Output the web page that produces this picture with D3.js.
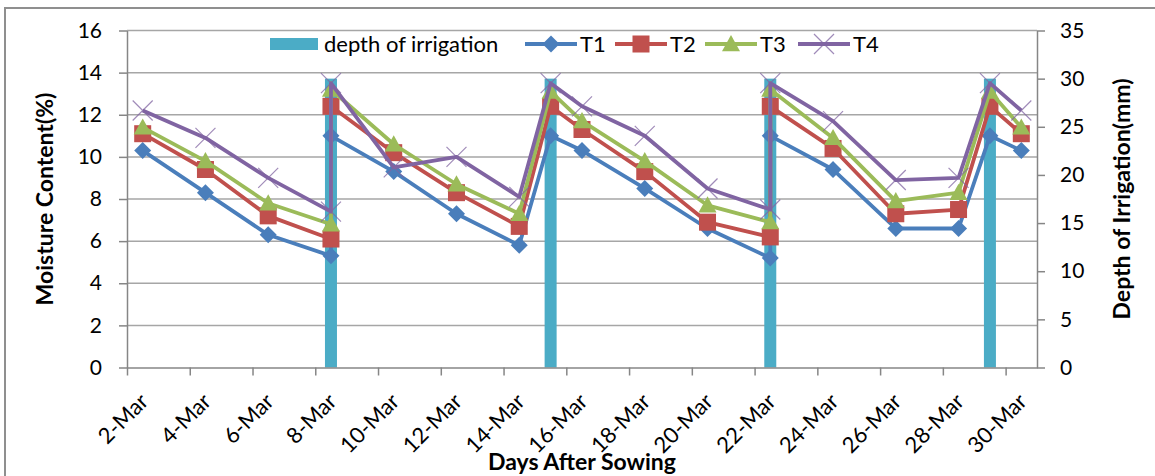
<!DOCTYPE html>
<html>
<head>
<meta charset="utf-8">
<script src="https://cdn.jsdelivr.net/npm/d3@7"></script>
<style>
    body { margin: 0; background: #fff; }
    text { font-family: Lato, Carlito, "Open Sans", sans-serif; fill: #000; }
</style>
</head>
<body>
<div id="chart"></div>
<script>

// Sampling dates (the irrigation days appear twice: before and after watering)
var dateLabels = ["2-Mar", "4-Mar", "6-Mar", "8-Mar", "8-Mar", "10-Mar", "12-Mar", "14-Mar", "15-Mar",
    "16-Mar", "18-Mar", "20-Mar", "22-Mar", "22-Mar", "24-Mar", "26-Mar", "28-Mar", "29-Mar", "30-Mar"];

var t1 = [10.3, 8.3, 6.3, 5.3, 11.0, 9.3, 7.3, 5.8, 11.0, 10.3, 8.5, 6.6, 5.2, 11.0, 9.4, 6.6, 6.6, 11.0, 10.3];
var t2 = [11.1, 9.4, 7.2, 6.1, 12.4, 10.2, 8.3, 6.7, 12.4, 11.3, 9.3, 6.9, 6.2, 12.4, 10.4, 7.3, 7.5, 12.4, 11.1];
var t3 = [11.4, 9.8, 7.8, 6.8, 13.2, 10.6, 8.7, 7.3, 13.1, 11.7, 9.8, 7.7, 6.9, 13.2, 10.9, 7.9, 8.3, 13.1, 11.4];
var t4 = [12.2, 10.9, 9.0, 7.4, 13.5, 9.5, 10.0, 8.1, 13.5, 12.4, 11.0, 8.5, 7.5, 13.5, 11.7, 8.9, 9.0, 13.5, 12.2];

// Irrigation events (right axis, mm)
var irrigationDates = ["8-Mar", "15-Mar", "22-Mar", "29-Mar"];
var irrigationDepth = [30, 30, 30, 30];

// Axis settings
var tickLabels = ["2-Mar", "4-Mar", "6-Mar", "8-Mar", "10-Mar", "12-Mar", "14-Mar", "16-Mar",
    "18-Mar", "20-Mar", "22-Mar", "24-Mar", "26-Mar", "28-Mar", "30-Mar"];
var axisStart = "2-Mar", axisEnd = "31-Mar";
var leftTicks = [0, 2, 4, 6, 8, 10, 12, 14, 16];
var rightTicks = [0, 5, 10, 15, 20, 25, 30, 35];

var parseDay = d3.utcParse("%d-%b");
var DAY = 24 * 3600 * 1000;

var series = [
    {name: "T1", values: t1, color: "#4A7EBB", marker: "diamond"},
    {name: "T2", values: t2, color: "#C0504D", marker: "square"},
    {name: "T3", values: t3, color: "#9BBB59", marker: "triangle"},
    {name: "T4", values: t4, color: "#8064A2", marker: "cross"}
];
var barColor = "#4BACC6";

var W = 1155, H = 476;
var plotLeft = 127, plotRight = 1037, plotTop = 30.5, plotBottom = 367.5;

var svg = d3.select("#chart").append("svg")
    .attr("width", W)
    .attr("height", H);

// outer chart border
svg.append("rect")
    .attr("x", 5).attr("y", 8)
    .attr("width", 1200).attr("height", 520)
    .attr("fill", "none")
    .attr("stroke", "#8f8f8f")
    .attr("stroke-width", 2);

// Scales
var x = d3.scaleUtc()
    .domain([parseDay(axisStart), parseDay(axisEnd)])
    .range([plotLeft, plotRight]);

var dayWidth = (plotRight - plotLeft) / ((parseDay(axisEnd) - parseDay(axisStart)) / DAY);

var xc = function (label) {
    // centre of the day slot
    return x(parseDay(label)) + dayWidth / 2;
};

var yL = d3.scaleLinear().domain([0, 16]).range([plotBottom, plotTop]);
var yR = d3.scaleLinear().domain([0, 35]).range([plotBottom, plotTop]);

// Gridlines
svg.append("g")
    .selectAll("line")
    .data(leftTicks.slice(1))
    .enter().append("line")
    .attr("x1", plotLeft).attr("x2", plotRight)
    .attr("y1", function (d) { return yL(d); })
    .attr("y2", function (d) { return yL(d); })
    .attr("stroke", "#a6a6a6")
    .attr("stroke-width", 1.5);

// Bars
var barW = 12;
svg.append("g")
    .selectAll("rect")
    .data(irrigationDates)
    .enter().append("rect")
    .attr("x", function (d) { return xc(d) - barW / 2; })
    .attr("width", barW)
    .attr("y", function (d, i) { return yR(irrigationDepth[i]); })
    .attr("height", function (d, i) { return yR(0) - yR(irrigationDepth[i]); })
    .attr("fill", barColor);

// Marker shapes
function drawMarker(sel, type, color, s) {
    if (type === "diamond") {
        sel.append("path")
            .attr("d", "M0," + (-s) + "L" + s + ",0L0," + s + "L" + (-s) + ",0Z")
            .attr("fill", color);
    } else if (type === "square") {
        sel.append("rect")
            .attr("x", -s).attr("y", -s)
            .attr("width", 2 * s).attr("height", 2 * s)
            .attr("fill", color);
    } else if (type === "triangle") {
        sel.append("path")
            .attr("d", "M0," + (-s) + "L" + s + "," + (s * 0.8) + "L" + (-s) + "," + (s * 0.8) + "Z")
            .attr("fill", color);
    } else {
        sel.append("path")
            .attr("d", "M" + (-s) + "," + (-s) + "L" + s + "," + s + "M" + s + "," + (-s) + "L" + (-s) + "," + s)
            .attr("stroke", color)
            .attr("stroke-opacity", 0.75)
            .attr("stroke-width", 1.2)
            .attr("fill", "none");
    }
}
var markerSize = {diamond: 8.5, square: 8.5, triangle: 9, cross: 10};

// Lines + markers
var line = d3.line()
    .x(function (d, i) { return xc(dateLabels[i]); })
    .y(function (d) { return yL(d); });

series.forEach(function (s) {
    var g = svg.append("g");
    g.append("path")
        .datum(s.values)
        .attr("d", line)
        .attr("fill", "none")
        .attr("stroke", s.color)
        .attr("stroke-width", 3.8)
        .attr("stroke-linejoin", "round");
    s.values.forEach(function (v, i) {
        var m = g.append("g")
            .attr("transform", "translate(" + xc(dateLabels[i]) + "," + yL(v) + ")");
        drawMarker(m, s.marker, s.color, markerSize[s.marker]);
    });
});

// Axes
var axisColor = "#868686";

var xAxis = svg.append("g")
    .attr("transform", "translate(0," + plotBottom + ")")
    .call(d3.axisBottom(x)
        .tickValues(tickLabels.map(parseDay))
        .tickSize(8)
        .tickSizeOuter(0)
        .tickFormat(d3.utcFormat("%-d-%b")));

xAxis.selectAll("text")
    .attr("text-anchor", "end")
    .attr("font-size", "22px")
    .attr("y", null)
    .attr("transform", "translate(" + (dayWidth / 2 + 1) + ",30) rotate(-45)")
    .attr("dy", "0.35em");

var yAxisL = svg.append("g")
    .attr("transform", "translate(" + plotLeft + ",0)")
    .call(d3.axisLeft(yL).tickValues(leftTicks).tickSize(8).tickSizeOuter(0).tickPadding(17));

var yAxisR = svg.append("g")
    .attr("transform", "translate(" + plotRight + ",0)")
    .call(d3.axisRight(yR).tickValues(rightTicks).tickSize(8).tickSizeOuter(0).tickPadding(15));

yAxisL.selectAll("text").attr("font-size", "21px");
yAxisR.selectAll("text").attr("font-size", "21px");

svg.selectAll(".domain, .tick line")
    .attr("stroke", axisColor)
    .attr("stroke-width", 1.5);
svg.selectAll(".tick text").attr("fill", "#000").style("font-family", "Lato, Carlito, sans-serif");

// Axis titles
var midY = (plotTop + plotBottom) / 2;
svg.append("text")
    .attr("transform", "translate(53," + midY + ") rotate(-90)")
    .attr("text-anchor", "middle")
    .attr("font-size", "23px")
    .attr("font-weight", "bold")
    .text("Moisture Content(%)");

svg.append("text")
    .attr("transform", "translate(1130," + midY + ") rotate(-90)")
    .attr("text-anchor", "middle")
    .attr("font-size", "23px")
    .attr("font-weight", "bold")
    .text("Depth of Irrigation(mm)");

svg.append("text")
    .attr("x", (plotLeft + plotRight) / 2)
    .attr("y", 470)
    .attr("text-anchor", "middle")
    .attr("font-size", "23px")
    .attr("font-weight", "bold")
    .text("Days After Sowing");

// Legend
var legend = svg.append("g").attr("font-size", "22px");
var ly = 44;

legend.append("rect")
    .attr("x", 270).attr("y", ly - 6)
    .attr("width", 48).attr("height", 12)
    .attr("fill", barColor);
legend.append("text")
    .attr("x", 324).attr("y", ly).attr("dy", "0.35em")
    .text("depth of irrigation");

var legendX = [525, 615, 705, 798];
series.forEach(function (s, i) {
    var lx = legendX[i];
    legend.append("line")
        .attr("x1", lx).attr("x2", lx + 52)
        .attr("y1", ly).attr("y2", ly)
        .attr("stroke", s.color)
        .attr("stroke-width", 3.8);
    var m = legend.append("g").attr("transform", "translate(" + (lx + 26) + "," + ly + ")");
    drawMarker(m, s.marker, s.color, markerSize[s.marker]);
    legend.append("text")
        .attr("x", lx + 55).attr("y", ly).attr("dy", "0.35em")
        .text(s.name);
});

</script>
</body>
</html>
